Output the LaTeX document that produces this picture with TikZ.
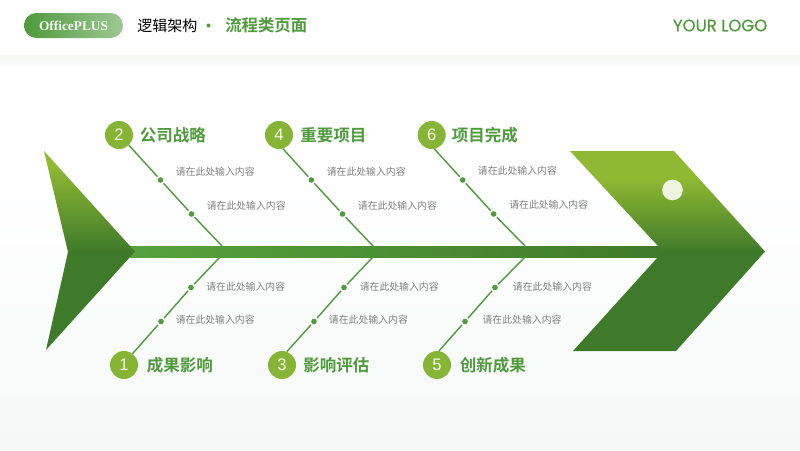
\documentclass[tikz,border=0pt]{standalone}
\usepackage{fontspec}
\setmainfont{Liberation Sans}
\newfontfamily\cjk{Noto Sans CJK SC}
\newfontfamily\cjkb{Noto Sans CJK SC Bold}
\newfontfamily\pop[FakeBold=0.35]{Poppins}
\newfontfamily\ser{Liberation Serif}
\definecolor{gDark}{HTML}{3F7A2A}
\definecolor{gLight}{HTML}{8FB933}
\definecolor{gMid}{HTML}{4E9A3C}
\definecolor{gSpine}{HTML}{57A23D}
\definecolor{gCirc}{HTML}{86B535}
\definecolor{bgEnd}{HTML}{F5F8F7}
\definecolor{bandTop}{HTML}{F3F8F1}
\tikzset{
 x=0.75pt,y=-0.75pt,
 numc/.style={circle,fill=gCirc,minimum size=21pt,inner sep=0pt,text=white!92!gCirc,font=\fontsize{12.5}{12.5}\selectfont},
 dotn/.style={circle,fill=gMid,minimum size=4.2pt,inner sep=0pt},
 bone/.style={draw=gMid,line width=1.05pt},
 ttl/.style={anchor=west,inner sep=0pt,text=gMid,font=\cjkb\fontsize{12.4}{12.4}\selectfont},
 desc/.style={anchor=west,inner sep=0pt,text=black!50,font=\cjk\fontsize{7.4}{7.4}\selectfont},
 shl/.style={shorten <=1.1pt},
 shr/.style={shorten >=1.1pt},
 shb/.style={shorten <=1.1pt,shorten >=1.1pt},
}
\begin{document}
\begin{tikzpicture}
\useasboundingbox (0,0) rectangle (800,450);
% background
\fill[white] (0,0) rectangle (800,450);
\shade[top color=white,bottom color=bgEnd] (0,190) rectangle (800,450);
\shade[top color=bandTop,bottom color=white] (0,55) rectangle (800,69);
% header
\node[rounded corners=9.3pt,minimum width=74.25pt,minimum height=18.75pt,inner sep=0pt,
  left color=gMid,right color=gMid!55!white,text=white!95!gMid,
  font=\ser\bfseries\fontsize{10}{10}\selectfont] (pill) at (73.5,25.5) {OfficePLUS};
\node[anchor=west,inner sep=0pt,font=\cjk\fontsize{11.25}{11.25}\selectfont] (h1) at (137,25.5) {逻辑架构};
\node[circle,fill=gMid,minimum size=3pt,inner sep=0pt] (hdot) at (208.5,25.5) {};
\node[anchor=west,inner sep=0pt,text=gMid,font=\cjkb\fontsize{12.3}{12.3}\selectfont] (h2) at (225,25.5) {流程类页面};
\node[anchor=east,inner sep=0pt,text=gMid,font=\pop\fontsize{12.4}{12.4}\selectfont] (logo) at (767.5,25.5) {YOUR LOGO};
% spine
\shade[left color=gSpine,right color=gDark] (130,246) rectangle (664,257);
% tail
\begin{scope}
\clip (44,151) -- (135,251.5) -- (46,350) -- (68,252) -- cycle;
\shade[top color=gLight,bottom color=gDark] (30,165) rectangle (150,252);
\fill[gLight] (30,150) rectangle (150,165.2);
\fill[gDark] (30,251.8) rectangle (150,352);
\end{scope}
% head
\begin{scope}
\clip (570,151) -- (674,151) -- (765,251.5) -- (676,351) -- (573,351) -- (658,257) -- (662,251.5) -- (658,246) -- cycle;
\shade[top color=gLight,bottom color=gDark] (560,178) rectangle (770,252);
\fill[gLight] (560,150) rectangle (770,178.2);
\fill[gDark] (560,251.8) rectangle (770,352);
\end{scope}
\node[circle,fill=white!85!gLight,minimum size=15.5pt,inner sep=0pt] (eye) at (672.5,190) {};
% joints
\coordinate (j2) at (222,246); \coordinate (j4) at (373,246); \coordinate (j6) at (525,246);
\coordinate (j1) at (220,257); \coordinate (j3) at (373,257); \coordinate (j5) at (525,257);
% circles
\node[numc] (n2) at (119,135) {2};
\node[numc] (n4) at (279,135) {4};
\node[numc] (n6) at (431.7,135) {6};
\node[numc] (n1) at (124,365) {1};
\node[numc] (n3) at (282,365) {3};
\node[numc] (n5) at (437,365) {5};
% dots
\node[dotn] (a2) at (160.5,180) {}; \node[dotn] (b2) at (191.5,214) {};
\node[dotn] (a4) at (311.3,180) {}; \node[dotn] (b4) at (342.5,214) {};
\node[dotn] (a6) at (462.7,180) {}; \node[dotn] (b6) at (493.7,214) {};
\node[dotn] (a1) at (161,321.5) {}; \node[dotn] (b1) at (191,287.5) {};
\node[dotn] (a3) at (314,321.5) {}; \node[dotn] (b3) at (344,287.5) {};
\node[dotn] (a5) at (465,321.5) {}; \node[dotn] (b5) at (495,287.5) {};
% bones
\draw[bone,shr] (n2.-46) -- (a2); \draw[bone,shb] (a2) -- (b2); \draw[bone,shl] (b2) -- (j2);
\draw[bone,shr] (n4.-74) -- (a4); \draw[bone,shb] (a4) -- (b4); \draw[bone,shl] (b4) -- (j4);
\draw[bone,shr] (n6.-79) -- (a6); \draw[bone,shb] (a6) -- (b6); \draw[bone,shl] (b6) -- (j6);
\draw[bone,shr] (n1.53) -- (a1); \draw[bone,shb] (a1) -- (b1); \draw[bone,shl] (b1) -- (j1);
\draw[bone,shr] (n3.70) -- (a3); \draw[bone,shb] (a3) -- (b3); \draw[bone,shl] (b3) -- (j3);
\draw[bone,shr] (n5.82) -- (a5); \draw[bone,shb] (a5) -- (b5); \draw[bone,shl] (b5) -- (j5);
% titles
\node[ttl] (t2) at (139.5,135) {公司战略};
\node[ttl] (t4) at (300,135) {重要项目};
\node[ttl] (t6) at (451.5,135) {项目完成};
\node[ttl] (t1) at (146.5,365.5) {成果影响};
\node[ttl] (t3) at (303,365.5) {影响评估};
\node[ttl] (t5) at (459.5,365.5) {创新成果};
% descriptions
\node[desc] (d2a) at (175.5,171.5) {请在此处输入内容};
\node[desc] (d2b) at (206.5,205.3) {请在此处输入内容};
\node[desc] (d4a) at (326.5,171.5) {请在此处输入内容};
\node[desc] (d4b) at (357.7,205.3) {请在此处输入内容};
\node[desc] (d6a) at (477.7,171.2) {请在此处输入内容};
\node[desc] (d6b) at (509,205) {请在此处输入内容};
\node[desc] (d1a) at (175.5,319.5) {请在此处输入内容};
\node[desc] (d1b) at (206,286.5) {请在此处输入内容};
\node[desc] (d3a) at (328.7,319.5) {请在此处输入内容};
\node[desc] (d3b) at (359.5,286.5) {请在此处输入内容};
\node[desc] (d5a) at (482.3,319.5) {请在此处输入内容};
\node[desc] (d5b) at (512.7,286.5) {请在此处输入内容};
\end{tikzpicture}
\end{document}
